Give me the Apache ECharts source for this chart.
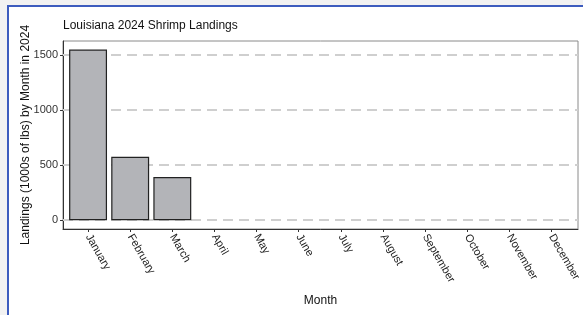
<!DOCTYPE html>
<html>
<head>
    <meta charset="utf-8">
    <title>Louisiana 2024 Shrimp Landings</title>
    <script src="https://cdn.jsdelivr.net/npm/echarts@6/dist/echarts.min.js"></script>
    <style>
        html, body {
            margin: 0;
            padding: 0;
            background: #f2f2f2;
            width: 583px;
            height: 315px;
            overflow: hidden;
        }

        .frame {
            position: absolute;
            left: 7px;
            top: 5px;
            right: 0;
            bottom: 0;
            border-top: 2px solid #3d5cbe;
            border-left: 2px solid #3d5cbe;
            background: #ffffff;
        }

        #chart {
            position: absolute;
            left: 0;
            top: 0;
            width: 583px;
            height: 315px;
        }
    </style>
</head>
<body>
<div class="frame"></div>
<div id="chart"></div>
<script>
    // data (1000s of lbs)
    var months = ['January', 'February', 'March', 'April', 'May', 'June',
        'July', 'August', 'September', 'October', 'November', 'December'];
    var landings = [1547, 575, 391, null, null, null, null, null, null, null, null, null];
    var yTicks = [0, 500, 1000, 1500];
    var yMin = -80, yMax = 1625;

    var font = 'Liberation Sans';
    var chart = echarts.init(document.getElementById('chart'), null, {renderer: 'canvas'});

    var option = {
        animation: false,
        backgroundColor: 'transparent',
        textStyle: {fontFamily: font},
        title: {
            text: 'Louisiana 2024 Shrimp Landings',
            left: 63,
            top: 20,
            padding: 0,
            textStyle: {fontFamily: font, fontSize: 12, fontWeight: 'normal', color: '#111'}
        },
        grid: [
            // panel frame
            {left: 63, top: 41, width: 515, height: 188, show: true, borderColor: '#8a8a8a', borderWidth: 1},
            // bars
            {left: 67, top: 41, width: 507, height: 188}
        ],
        xAxis: [
            {
                gridIndex: 0, type: 'value', min: 0, max: 1,
                axisLine: {show: true, onZero: false, lineStyle: {color: '#333', width: 1}},
                axisTick: {show: false}, axisLabel: {show: false}, splitLine: {show: false},
                name: 'Month', nameLocation: 'middle', nameGap: 66, nameMoveOverlap: false,
                nameTextStyle: {fontFamily: font, fontSize: 12, color: '#111'}
            },
            {
                gridIndex: 1, type: 'category', data: months,
                axisLine: {show: false, onZero: false},
                axisTick: {show: true, alignWithLabel: true, length: 3, lineStyle: {color: '#333'}},
                axisLabel: {interval: 0, rotate: -60, margin: 6, fontSize: 11, color: '#222', fontFamily: font}
            }
        ],
        yAxis: [
            {
                gridIndex: 0, type: 'value', min: yMin, max: yMax,
                axisLine: {show: true, lineStyle: {color: '#333', width: 1}},
                axisTick: {show: true, length: 3, customValues: yTicks, lineStyle: {color: '#333'}},
                axisLabel: {
                    customValues: yTicks, margin: 5, fontSize: 11, color: '#333', fontFamily: font,
                    formatter: function (v) { return String(v); }
                },
                splitLine: {show: false},
                name: 'Landings (1000s of lbs) by Month in 2024',
                nameLocation: 'middle', nameGap: 31, nameMoveOverlap: false,
                nameTextStyle: {fontFamily: font, fontSize: 12, color: '#111'}
            },
            {
                gridIndex: 1, type: 'value', min: yMin, max: yMax, show: false
            }
        ],
        series: [
            {
                // dashed grid lines behind the bars
                type: 'line', xAxisIndex: 0, yAxisIndex: 0, data: [], z: 1, silent: true,
                markLine: {
                    z: 1, silent: true, symbol: 'none', label: {show: false},
                    lineStyle: {color: '#cfcfcf', type: [10, 6], width: 2},
                    data: yTicks.map(function (v) { return {yAxis: v}; })
                }
            },
            {
                type: 'bar', xAxisIndex: 1, yAxisIndex: 1, z: 3,
                data: landings,
                barCategoryGap: '10%',
                itemStyle: {color: '#b3b4b8', borderColor: '#222', borderWidth: 1.2}
            }
        ]
    };
    chart.setOption(option);
</script>
</body>
</html>
